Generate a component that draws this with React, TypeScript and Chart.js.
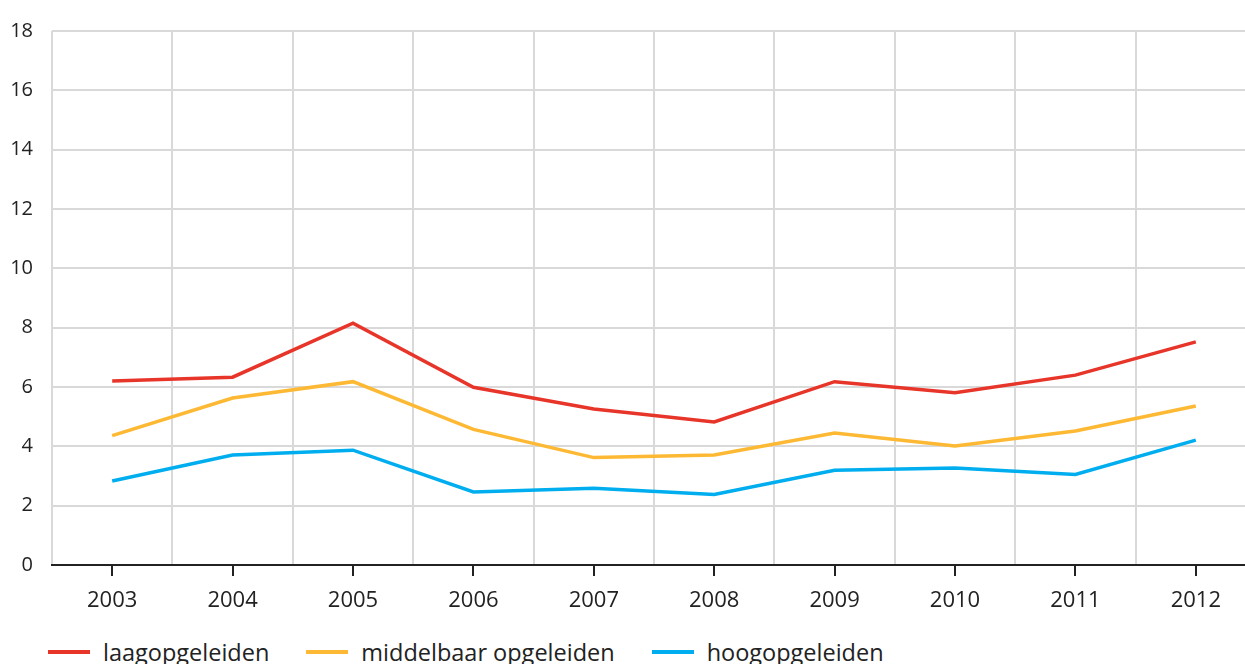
import React, { useEffect, useRef } from "react";
import { Chart, registerables, ChartConfiguration } from "chart.js";

Chart.register(...registerables);

const years = ["2003", "2004", "2005", "2006", "2007", "2008", "2009", "2010", "2011", "2012"];
const laag = [6.2, 6.33, 8.15, 5.99, 5.26, 4.82, 6.18, 5.81, 6.4, 7.52];
const middelbaar = [4.36, 5.63, 6.18, 4.57, 3.62, 3.71, 4.45, 4.01, 4.52, 5.36];
const hoog = [2.83, 3.71, 3.87, 2.46, 2.59, 2.38, 3.19, 3.27, 3.05, 4.21];

const seriesNames = ["laagopgeleiden", "middelbaar opgeleiden", "hoogopgeleiden"];
const seriesColors = ["#e8352a", "#fdb933", "#00aeef"];

const FONT = "'Open Sans', 'Noto Sans', sans-serif";
const GRID = "#d9d9d9";
const INK = "#222";

function buildConfig(): ChartConfiguration {
  const values = [laag, middelbaar, hoog];
  return {
    type: "line",
    data: {
      labels: years,
      datasets: values.map((data, i) => ({
        label: seriesNames[i],
        data,
        xAxisID: "x",
        borderColor: seriesColors[i],
        backgroundColor: seriesColors[i],
        borderWidth: 3.5,
        pointRadius: 0,
        tension: 0,
        fill: false,
      })),
    },
    options: {
      responsive: false,
      animation: false,
      devicePixelRatio: 1,
      layout: { padding: { top: 28, left: 0, right: 0, bottom: 0 } },
      plugins: {
        legend: { display: false },
        tooltip: { enabled: false },
      },
      scales: {
        x: {
          type: "category",
          position: "bottom",
          offset: true,
          grid: {
            offset: false,
            drawOnChartArea: false,
            drawTicks: true,
            tickLength: 11,
            color: INK,
            lineWidth: 2,
          },
          border: { display: true, color: INK, width: 2 },
          ticks: {
            color: INK,
            padding: 12,
            maxRotation: 0,
            font: { family: FONT, size: 22 },
          },
          afterFit: (s: any) => { s.height = 65; },
        },
        // only there for the vertical grid lines between the years
        x2: {
          type: "category",
          position: "top",
          labels: years,
          offset: true,
          grid: {
            offset: true,
            drawTicks: false,
            color: GRID,
            lineWidth: 2,
          },
          border: { display: false },
          ticks: { display: false },
        },
        y: {
          min: 0,
          max: 18,
          ticks: {
            stepSize: 2,
            color: INK,
            padding: 19,
            font: { family: FONT, size: 20 },
          },
          grid: {
            drawTicks: false,
            lineWidth: 2,
            color: (ctx: any) => (ctx.tick && ctx.tick.value === 0 ? "rgba(0,0,0,0)" : GRID),
          },
          border: { display: false },
          afterFit: (s: any) => { s.width = 52; },
        },
      },
    },
  } as ChartConfiguration;
}

const Legend = () => (
  <div style={{
    position: "absolute", left: 48, top: 636, display: "flex",
    alignItems: "center", fontFamily: FONT, fontSize: 23.5, color: INK,
    whiteSpace: "nowrap", lineHeight: "32px",
  }}>
    {seriesNames.map((name, i) => (
      <div key={name} style={{ display: "flex", alignItems: "center", marginRight: 37 }}>
        <span style={{
          display: "inline-block", width: 42, height: 4,
          background: seriesColors[i], marginRight: 13,
        }} />
        <span>{name}</span>
      </div>
    ))}
  </div>
);

export default function App() {
  const canvas = useRef<HTMLCanvasElement>(null);
  useEffect(() => {
    const ctxt = canvas.current!.getContext("2d")!;
    const chart = new Chart(ctxt, buildConfig());
    return () => chart.destroy();
  }, []);

  return (
    <div style={{
      position: "absolute", left: 0, top: 0, width: 1245, height: 664,
      overflow: "hidden", background: "#fff",
    }}>
      <canvas ref={canvas} width={1256} height={630}
        style={{ display: "block", width: 1256, height: 630 }} />
      <Legend />
    </div>
  );
}
